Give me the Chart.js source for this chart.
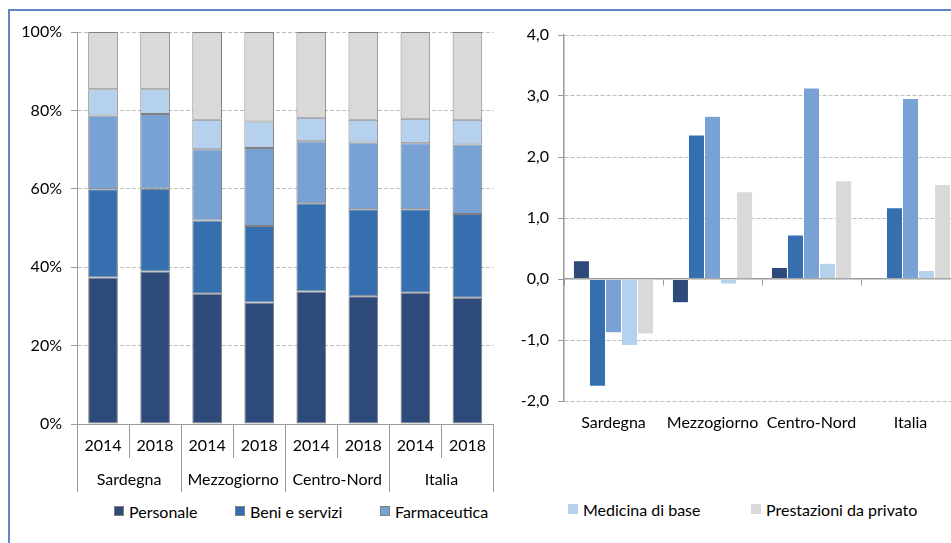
<!DOCTYPE html>
<html>
<head>
<meta charset="utf-8">
<script src="https://cdn.jsdelivr.net/npm/chart.js@4.4.0/dist/chart.umd.min.js"></script>
<style>
  html, body { margin:0; padding:0; background:#fff; width:951px; height:543px; overflow:hidden; }
  body { position:relative; font-family: Lato, "Liberation Sans", sans-serif; }
  #frame { position:absolute; left:8px; top:9px; width:1000px; height:600px;
           border-left:2px solid #5f86c6; border-top:2px solid #5f86c6; }
  #leftWrap { position:absolute; left:0; top:0; width:498px; height:500px; }
  #rightWrap { position:absolute; left:500px; top:0; width:451px; height:450px; overflow:hidden; }
  canvas { position:absolute; left:0; top:0; }
  .item { position:absolute; display:flex; align-items:center; height:16px; font-size:16px; color:#000; white-space:nowrap; }
  .box { width:10px; height:10px; box-sizing:border-box; margin-right:5px; flex:none; }
</style>
</head>
<body>
<div id="frame"></div>
<div id="leftWrap"><canvas id="left" width="498" height="500"></canvas></div>
<div id="rightWrap"><canvas id="right" width="460" height="450"></canvas></div>
<div id="legends"></div>
<script>
// ---- Data ----
const years = ['2014','2018','2014','2018','2014','2018','2014','2018'];
const regions = ['Sardegna','Mezzogiorno','Centro-Nord','Italia'];
const seriesNames = ['Personale','Beni e servizi','Farmaceutica','Medicina di base','Prestazioni da privato'];

// Composition (% of total), one value per year bar
const sharePersonale   = [37.4, 38.9, 33.2, 31.0, 33.8, 32.6, 33.5, 32.2];
const shareBeni        = [22.5, 21.1, 18.7, 19.5, 22.5, 22.2, 21.3, 21.4];
const shareFarmaceutica= [18.8, 19.1, 18.2, 19.9, 15.8, 17.0, 16.8, 17.7];
const shareMedicina    = [ 6.7,  6.3,  7.5,  6.8,  6.0,  5.8,  6.3,  6.3];
const sharePrestazioni = [14.6, 14.6, 22.4, 22.8, 21.9, 22.4, 22.1, 22.4];

// Average annual change, one value per region
const varPersonale    = [ 0.30, -0.39, 0.19, 0.01];
const varBeni         = [-1.76,  2.36, 0.72, 1.17];
const varFarmaceutica = [-0.88,  2.67, 3.13, 2.96];
const varMedicina     = [-1.09, -0.08, 0.26, 0.14];
const varPrestazioni  = [-0.90,  1.43, 1.61, 1.55];

const leftTicks = [0, 20, 40, 60, 80, 100];
const rightTicks = [-2, -1, 0, 1, 2, 3, 4];

// ---- Styles ----
const colors = ['#2e4a7a', '#356fb0', '#78a1d4', '#b6d1ed', '#d9d9d9'];
const FONT = 'Lato, "Liberation Sans", sans-serif';
const FS = 16;
const AXIS = '#9a9a9a';
const GRID = '#bdbdbd';

const shares = [sharePersonale, shareBeni, shareFarmaceutica, shareMedicina, sharePrestazioni];
const vars = [varPersonale, varBeni, varFarmaceutica, varMedicina, varPrestazioni];

const groupPlugin = {
  id: 'groupAxis',
  afterDraw(chart) {
    const x = chart.scales.x, ctx = chart.ctx;
    const base = chart.chartArea.bottom;
    ctx.save();
    ctx.strokeStyle = AXIS; ctx.lineWidth = 1;
    for (let i = 0; i <= years.length; i++) {
      const px = Math.round(x.getPixelForValue(i - 0.5)) + 0.5;
      const len = (i % 2 === 0) ? 68 : 34;
      ctx.beginPath(); ctx.moveTo(px, base); ctx.lineTo(px, base + len); ctx.stroke();
    }
    ctx.fillStyle = '#000';
    ctx.font = FS + 'px ' + FONT;
    ctx.textAlign = 'center'; ctx.textBaseline = 'middle';
    regions.forEach((r, g) => {
      ctx.fillText(r, x.getPixelForValue(2 * g + 0.5), base + 56);
    });
    ctx.restore();
  }
};

function build() {
  new Chart(document.getElementById('left'), {
    type: 'bar',
    data: {
      labels: years,
      datasets: shares.map((d, i) => ({
        label: seriesNames[i], data: d, backgroundColor: colors[i],
        borderColor: '#808080', borderWidth: 1, borderSkipped: false,
        barPercentage: 0.57, categoryPercentage: 1.0
      }))
    },
    options: {
      responsive: false, animation: false,
      layout: { padding: { top: 32, right: 0, left: 0, bottom: 0 } },
      plugins: { legend: { display: false }, tooltip: { enabled: false } },
      scales: {
        x: {
          stacked: true,
          grid: { drawOnChartArea: false, drawTicks: false },
          border: { color: AXIS, width: 1 },
          ticks: { font: { family: FONT, size: FS }, color: '#000', padding: 12, maxRotation: 0, autoSkip: false },
          afterFit: s => { s.height = 76; }
        },
        y: {
          stacked: true, min: 0, max: 100,
          afterBuildTicks: s => { s.ticks = leftTicks.map(v => ({ value: v })); },
          ticks: { callback: v => v + '%', font: { family: FONT, size: FS }, color: '#000', padding: 9 },
          grid: { color: c => c.tick && c.tick.value === 0 ? 'rgba(0,0,0,0)' : GRID, tickColor: AXIS, tickLength: 6 },
          border: { color: AXIS, width: 1, dash: [4, 2] },
          afterFit: s => { s.width = 77; }
        }
      }
    },
    plugins: [groupPlugin]
  });

  new Chart(document.getElementById('right'), {
    type: 'bar',
    data: {
      labels: regions,
      datasets: vars.map((d, i) => ({
        label: seriesNames[i], data: d, backgroundColor: colors[i],
        borderColor: 'rgba(255,255,255,0.6)', borderWidth: 0.5, borderSkipped: false,
        barPercentage: 1.0, categoryPercentage: 0.81,
        xAxisID: 'x', yAxisID: 'y'
      }))
    },
    options: {
      responsive: false, animation: false,
      layout: { padding: { top: 35, right: 0, left: 0, bottom: 0 } },
      plugins: { legend: { display: false }, tooltip: { enabled: false } },
      scales: {
        x: {
          position: 'bottom',
          grid: { drawOnChartArea: false, drawTicks: false },
          border: { display: false },
          ticks: { font: { family: FONT, size: FS }, color: '#000', padding: 12, maxRotation: 0, autoSkip: false },
          afterFit: s => { s.height = 49; }
        },
        x0: {
          type: 'category', labels: regions, position: { y: 0 },
          grid: { offset: true, drawOnChartArea: false, tickLength: 6, tickColor: AXIS },
          border: { color: AXIS, width: 1.5 },
          ticks: { display: false }
        },
        y: {
          min: -2, max: 4,
          afterBuildTicks: s => { s.ticks = rightTicks.map(v => ({ value: v })); },
          ticks: { callback: v => v.toFixed(1).replace('.', ','), font: { family: FONT, size: FS }, color: '#000', padding: 9 },
          grid: { color: c => c.tick && c.tick.value === 0 ? 'rgba(0,0,0,0)' : GRID, tickColor: AXIS, tickLength: 6 },
          border: { color: AXIS, width: 1.5, dash: [4, 2] },
          afterFit: s => { s.width = 64; }
        }
      }
    }
  });

  // Legend (split across both panels, as in the original figure)
  const legendPos = [[114, 503, true], [235, 503, true], [380, 503, true], [568, 501, false], [751, 501, false]];
  const host = document.getElementById('legends');
  seriesNames.forEach((name, i) => {
    const it = document.createElement('div');
    it.className = 'item';
    it.style.left = legendPos[i][0] + 'px';
    it.style.top = legendPos[i][1] + 'px';
    const b = document.createElement('span');
    b.className = 'box';
    b.style.background = colors[i];
    if (legendPos[i][2]) b.style.border = '1px solid #808080';
    const t = document.createElement('span');
    t.textContent = name;
    it.appendChild(b); it.appendChild(t);
    host.appendChild(it);
  });
}

if (document.fonts && document.fonts.load) {
  document.fonts.load('16px Lato').then(build, build);
} else { build(); }
</script>
</body>
</html>
